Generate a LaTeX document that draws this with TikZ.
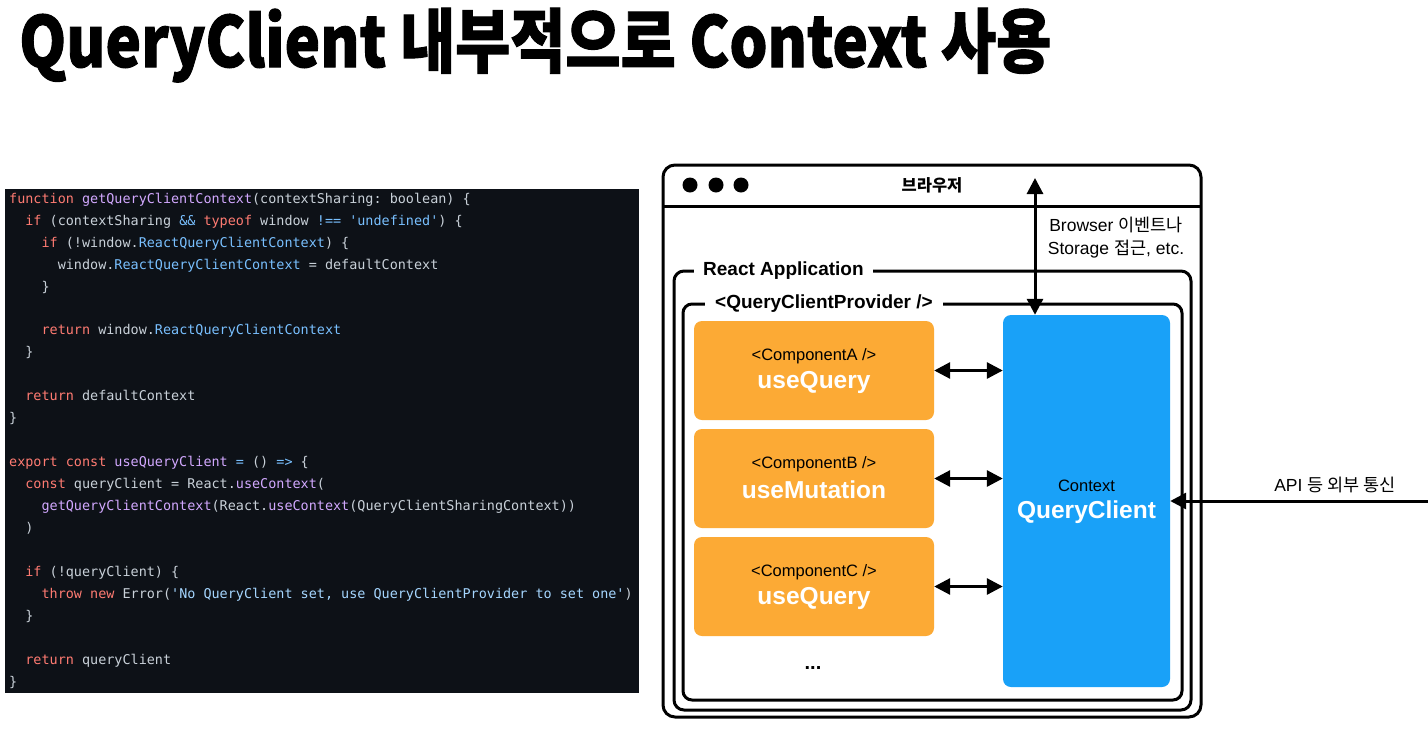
\documentclass[tikz,border=0pt]{standalone}
\usepackage{fontspec}
\usepackage{graphicx}
\setmainfont{Liberation Sans}
\newfontfamily\kr{Noto Sans CJK KR}
\newfontfamily\krtitle{Noto Sans CJK KR}[BoldFeatures={FakeBold=1.5}]
\newfontfamily\codefont{DejaVu Sans Mono}
\usetikzlibrary{arrows.meta}
\definecolor{codebg}{HTML}{0D1117}
\definecolor{codefg}{HTML}{C9D1D9}
\definecolor{ckwc}{HTML}{FF7B72}
\definecolor{cfnc}{HTML}{D2A8FF}
\definecolor{cblc}{HTML}{79C0FF}
\definecolor{cstc}{HTML}{A5D6FF}
\definecolor{orangebox}{HTML}{FCAA35}
\definecolor{bluebox}{HTML}{19A1F8}
\newcommand\ckw[1]{\textcolor{ckwc}{#1}}
\newcommand\cfn[1]{\textcolor{cfnc}{#1}}
\newcommand\cbl[1]{\textcolor{cblc}{#1}}
\newcommand\cst[1]{\textcolor{cstc}{#1}}
\newcommand\q{\textquotesingle}
\begin{document}
\begin{tikzpicture}[x=1pt,y=-1pt,
  codeline/.style={anchor=west, inner sep=0pt, text height=10pt, text depth=3.5pt,
    font=\codefont\fontsize{13.45}{16}\selectfont\frenchspacing, text=codefg},
  frame/.style={draw=black, line width=3pt},
  framelabel/.style={anchor=west, fill=white, inner xsep=9pt, inner ysep=2pt,
    font=\bfseries\fontsize{19}{22}\selectfont},
  comp/.style={fill=orangebox, minimum width=240pt, minimum height=99pt,
    rounded corners=8pt, inner sep=0pt},
  smalltxt/.style={font=\fontsize{16.5}{19}\selectfont, text=black, inner sep=0pt},
  bigtxt/.style={font=\bfseries\fontsize{24.5}{28}\selectfont, text=white, inner sep=0pt},
  dbl/.style={line width=3pt, {Triangle[length=16pt,width=16pt]}-{Triangle[length=16pt,width=16pt]}},
  sgl/.style={line width=3pt, -{Triangle[length=16pt,width=16pt]}},
  note/.style={font=\fontsize{17.5}{23}\selectfont, align=center, inner sep=0pt}
]
\useasboundingbox[fill=white] (0,0) rectangle (1428,753);

% title
\node[anchor=base west, inner sep=0pt] (title) at (19,67)
  {\krtitle\bfseries\fontsize{70}{76}\selectfont\scalebox{0.856}[1]{QueryClient 내부적으로 Context 사용}};

% code panel
\fill[codebg] (5,189) rectangle (639,693);
\def\cw{8.1}
\node[codeline] (l1) at (9,200) {\ckw{function} \cfn{getQueryClientContext}(contextSharing: boolean) \{};
\node[codeline] (l2) at (9+2*\cw,221.9) {\ckw{if} (contextSharing \cbl{\&\&} \ckw{typeof} window \cbl{!==} \cbl{\q undefined\q}) \{};
\node[codeline] (l3) at (9+4*\cw,243.9) {\ckw{if} (!window.\cbl{ReactQueryClientContext}) \{};
\node[codeline] (l4) at (9+6*\cw,265.8) {window.\cbl{ReactQueryClientContext} = defaultContext};
\node[codeline] (l5) at (9+4*\cw,287.8) {\}};
\node[codeline] (l7) at (9+4*\cw,331.7) {\ckw{return} window.\cbl{ReactQueryClientContext}};
\node[codeline] (l8) at (9+2*\cw,353.6) {\}};
\node[codeline] (l10) at (9+2*\cw,397.5) {\ckw{return} defaultContext};
\node[codeline] (l11) at (9,419.5) {\}};
\node[codeline] (l13) at (9,463.4) {\ckw{export} \ckw{const} \cfn{useQueryClient} \cbl{=} () \cbl{=>} \{};
\node[codeline] (l14) at (9+2*\cw,485.3) {\ckw{const} queryClient = React.\cfn{useContext}(};
\node[codeline] (l15) at (9+4*\cw,507.3) {\cfn{getQueryClientContext}(React.\cfn{useContext}(QueryClientSharingContext))};
\node[codeline] (l16) at (9+2*\cw,529.2) {)};
\node[codeline] (l18) at (9+2*\cw,573.1) {\ckw{if} (!queryClient) \{};
\node[codeline] (l19) at (9+4*\cw,595.1) {\ckw{throw} \ckw{new} Error(\cst{\q No QueryClient set, use QueryClientProvider to set one\q})};
\node[codeline] (l20) at (9+2*\cw,617.0) {\}};
\node[codeline] (l22) at (9+2*\cw,661.0) {\ckw{return} queryClient};
\node[codeline] (l23) at (9,683) {\}};

% browser window
\draw[frame, rounded corners=12pt] (663,165) rectangle (1201,717);
\draw[frame] (663,206) -- (1201,206);
\fill (690,185) circle (7.5pt);
\fill (716,185) circle (7.5pt);
\fill (741,185) circle (7.5pt);
\node[font=\kr\bfseries\fontsize{16.5}{19}\selectfont, inner sep=0pt] (brw) at (932,185) {브라우저};

% react application
\draw[frame, rounded corners=10pt] (674,271) rectangle (1191,710);
\node[framelabel] (ra) at (694,271) {React Application};

% query client provider
\draw[frame, rounded corners=9pt] (683,304) rectangle (1182,700);
\node[framelabel, inner xsep=10pt] (qcp) at (705,304) {<QueryClientProvider />};

% components
\node[comp] (cA) at (814,370.5) {};
\node[comp] (cB) at (814,478.5) {};
\node[comp] (cC) at (814,586.5) {};
\node[smalltxt] (cAt) at (814,356) {<ComponentA />};
\node[bigtxt] (cAh) at (814,382) {useQuery};
\node[smalltxt] (cBt) at (814,464) {<ComponentB />};
\node[bigtxt] (cBh) at (814,490) {useMutation};
\node[smalltxt] (cCt) at (814,572) {<ComponentC />};
\node[bigtxt] (cCh) at (814,598) {useQuery};
\node[font=\bfseries\fontsize{20}{22}\selectfont, inner sep=0pt] (dots) at (813,668) {...};

% query client
\node[fill=bluebox, minimum width=167pt, minimum height=372pt, rounded corners=8pt, inner sep=0pt] (qc) at (1086.5,501) {};
\node[smalltxt] (qct) at (1086.5,486) {Context};
\node[bigtxt] (qch) at (1086.5,512) {QueryClient};

% arrows
\draw[dbl] (cA.east) -- (qc.west |- cA.east);
\draw[dbl] (cB.east) -- (qc.west |- cB.east);
\draw[dbl] (cC.east) -- (qc.west |- cC.east);
\coordinate (btop) at (1035,178);
\draw[dbl] (btop) -- (btop |- qc.north);
\coordinate (apiR) at (1428,501);
\draw[sgl] (apiR) -- (qc.east |- apiR);

% notes
\node[note] (bev) at (1116,238) {Browser {\kr 이벤트나}\\Storage {\kr 접근}, etc.};
\node[note] (api) at (1335,485) {API {\kr 등 외부 통신}};
\end{tikzpicture}
\end{document}
